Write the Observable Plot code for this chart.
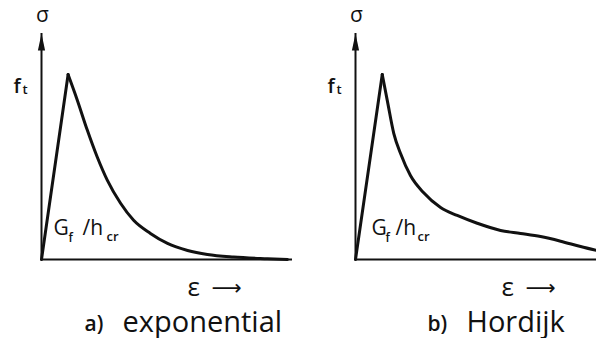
<!DOCTYPE html>
<html><head><meta charset="utf-8">
<script src="https://cdn.jsdelivr.net/npm/d3@7"></script>
<script src="https://cdn.jsdelivr.net/npm/@observablehq/plot@0.6"></script>
<style>
body{margin:0;background:#fff;}
#wrap{display:flex;width:596px;height:338px;overflow:hidden;}
</style></head><body><div id="wrap"></div>
<script>
// normalised strain (0..1 across the panel) and stress (f_t = 1)
const expStrain  = [0, 0.106, 0.142, 0.182, 0.222, 0.262, 0.315, 0.367, 0.434, 0.502, 0.582, 0.661, 0.765, 0.900, 0.980];
const expStress  = [0, 1.000, 0.864, 0.701, 0.554, 0.429, 0.304, 0.212, 0.141, 0.087, 0.049, 0.027, 0.013, 0.004, 0.000];
const hordStrain = [0, 0.111, 0.132, 0.159, 0.187, 0.228, 0.282, 0.353, 0.422, 0.505, 0.602, 0.685, 0.768, 0.851, 0.934, 1.000];
const hordStress = [0, 1.000, 0.859, 0.681, 0.573, 0.454, 0.362, 0.281, 0.238, 0.196, 0.157, 0.141, 0.124, 0.099, 0.070, 0.049];
const panelLetters = ["a)", "b)"];
const panelNames = ["exponential", "Hordijk"];
const axisLabels = {stress: "σ", strain: "ε", arrow: "⟶", ft: ["f", "t"], gf: ["G", "f", "/h", "cr"]};
const peakStress = 1;
const stressMax = 1.222;
const strainMax = 1;

const ink = "#111";
const arrowHead = {draw(ctx) { ctx.moveTo(0, 0); ctx.lineTo(-3.6, 17); ctx.lineTo(3.6, 17); ctx.closePath(); }};

function txt(s, o) {
  return Plot.text([s], {text: d => d, textAnchor: "start", lineAnchor: "bottom", fill: ink, fontFamily: "Open Sans", ...o});
}

function panel(strain, stress, o) {
  const pts = strain.map((e, i) => ({e, s: stress[i]}));
  const rise = pts.slice(0, 2);
  const decay = pts.slice(1);
  return Plot.plot({
    width: 298, height: 338,
    marginLeft: o.ml, marginRight: o.mr, marginTop: 33, marginBottom: 79,
    x: {domain: [0, strainMax], axis: null},
    y: {domain: [0, stressMax], axis: null},
    style: {background: "#fff", fontFamily: "Open Sans", overflow: "visible"},
    marks: [
      Plot.ruleY([0], {stroke: ink, strokeWidth: 2}),
      Plot.ruleX([0], {y1: 0, y2: stressMax, stroke: ink, strokeWidth: 2}),
      Plot.dot([{e: 0, s: stressMax}], {x: "e", y: "s", symbol: arrowHead, fill: ink, stroke: "none"}),
      Plot.line(rise, {x: "e", y: "s", stroke: ink, strokeWidth: 3, strokeLinecap: "round"}),
      Plot.line(decay, {x: "e", y: "s", curve: "monotone-x", stroke: ink, strokeWidth: 3, strokeLinecap: "round"}),
      // sigma
      txt(axisLabels.stress, {frameAnchor: "top-left", textAnchor: "middle", dx: 1, dy: -12, fontSize: 21, fontWeight: 500}),
      // f_t
      Plot.text([peakStress], {y: d => d, text: () => axisLabels.ft[0], frameAnchor: "left", textAnchor: "start", lineAnchor: "bottom", dx: -28, dy: 18, fontSize: 20, fontWeight: 600, fill: ink, fontFamily: "Open Sans"}),
      Plot.text([peakStress], {y: d => d, text: () => axisLabels.ft[1], frameAnchor: "left", textAnchor: "start", lineAnchor: "bottom", dx: -19, dy: 19, fontSize: 13, fontWeight: 600, fill: ink, fontFamily: "Open Sans"}),
      // G_f / h_cr
      txt(axisLabels.gf[0], {frameAnchor: "bottom-left", dx: o.g[0], dy: -25, fontSize: 21, fontWeight: 500}),
      txt(axisLabels.gf[1], {frameAnchor: "bottom-left", dx: o.g[1], dy: -18, fontSize: 12, fontWeight: 600}),
      txt(axisLabels.gf[2], {frameAnchor: "bottom-left", dx: o.g[2], dy: -25, fontSize: 21, fontWeight: 500}),
      txt(axisLabels.gf[3], {frameAnchor: "bottom-left", dx: o.g[3], dy: -19, fontSize: 13, fontWeight: 600}),
      // epsilon arrow
      txt(axisLabels.strain, {frameAnchor: "bottom-left", dx: 146, dy: 36, fontSize: 26, fontWeight: 500}),
      txt(axisLabels.arrow, {frameAnchor: "bottom-left", dx: 170, dy: 35, fontSize: 21, fontFamily: "DejaVu Sans"}),
      // caption
      txt(o.letter, {frameAnchor: "bottom-left", dx: o.cap[0], dy: 71, fontSize: 21, fontWeight: 600}),
      txt(o.name, {frameAnchor: "bottom-left", dx: o.cap[1], dy: 72, fontSize: 29})
    ]
  });
}

const wrap = document.getElementById("wrap");
wrap.append(panel(expStrain, expStress, {ml: 41, mr: 6, g: [12, 27, 41, 65], cap: [43, 81], letter: panelLetters[0], name: panelNames[0]}));
wrap.append(panel(hordStrain, hordStress, {ml: 57, mr: 0, g: [16, 30, 40, 62], cap: [72, 111], letter: panelLetters[1], name: panelNames[1]}));
</script></body></html>
